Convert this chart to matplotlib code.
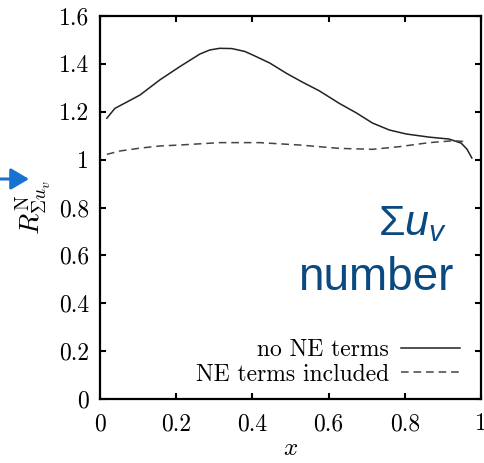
import matplotlib
matplotlib.use("Agg")
import matplotlib.pyplot as plt

# values
x_no_ne = [0.018, 0.039, 0.071, 0.105, 0.157, 0.209, 0.262, 0.288, 0.314, 0.346,
           0.380, 0.401, 0.445, 0.490, 0.531, 0.576, 0.628, 0.673, 0.715, 0.759,
           0.804, 0.864, 0.916, 0.948, 0.963, 0.976]
y_no_ne = [1.173, 1.214, 1.241, 1.270, 1.333, 1.388, 1.441, 1.458, 1.465, 1.464,
           1.452, 1.437, 1.404, 1.360, 1.324, 1.287, 1.235, 1.195, 1.153, 1.124,
           1.107, 1.094, 1.086, 1.069, 1.044, 1.007]

x_ne = [0.018, 0.052, 0.105, 0.157, 0.209, 0.314, 0.419, 0.524, 0.628, 0.715,
        0.785, 0.864, 0.929, 0.953]
y_ne = [1.022, 1.036, 1.048, 1.057, 1.061, 1.071, 1.071, 1.061, 1.047, 1.043,
        1.054, 1.071, 1.079, 1.076]

xticks = [0, 0.2, 0.4, 0.6, 0.8, 1]
xtick_labels = ["0", "0.2", "0.4", "0.6", "0.8", "1"]
yticks = [0, 0.2, 0.4, 0.6, 0.8, 1, 1.2, 1.4, 1.6]
ytick_labels = ["0", "0.2", "0.4", "0.6", "0.8", "1", "1.2", "1.4", "1.6"]

plt.rcParams["font.family"] = "cmr10"
plt.rcParams["mathtext.fontset"] = "cm"
plt.rcParams["mathtext.rm"] = "Liberation Sans"
plt.rcParams["mathtext.it"] = "Liberation Sans:italic"
plt.rcParams["axes.formatter.use_mathtext"] = True

fig = plt.figure(figsize=(4.85, 4.63), dpi=100)
ax = fig.add_axes([100 / 485, 1 - 399 / 463, 381 / 485, 383 / 463])

ax.plot(x_no_ne, y_no_ne, color="#222222", lw=1.1, label="no NE terms")
ax.plot(x_ne, y_ne, color="#444444", lw=1.1, dashes=(5.0, 3.2), label="NE terms included")

ax.set_xlim(0, 1)
ax.set_ylim(0, 1.6)
ax.set_xticks(xticks)
ax.set_xticklabels(xtick_labels)
ax.set_yticks(yticks)
ax.set_yticklabels(ytick_labels)
ax.tick_params(direction="in", length=4, width=1.5, top=True, right=True, labelsize=17)
ax.tick_params(axis="x", pad=10)
ax.tick_params(axis="y", pad=8)
for s in ax.spines.values():
    s.set_linewidth(1.6)

ax.set_xlabel(r"$x$", fontsize=18, labelpad=2)
ax.set_ylabel(r"$R^{\mathrm{N}}_{\Sigma u_v}$", fontsize=20, labelpad=4)

ax.legend(loc="lower right", bbox_to_anchor=(0.945, 0.035), frameon=False,
          markerfirst=False, fontsize=17, handlelength=2.5, handletextpad=0.5,
          borderpad=0, borderaxespad=0, labelspacing=0.1)

# blue annotation text and arrow
blue = "#0b4a80"
fig.text(447 / 485, 1 - 235 / 463, r"$\Sigma u_v$", color=blue, fontsize=31,
         ha="right", va="baseline", math_fontfamily="custom")
fig.text(453 / 485, 1 - 290 / 463, "number", color=blue, fontsize=33,
         family="Liberation Sans", ha="right", va="baseline")
fig.add_artist(matplotlib.patches.FancyArrowPatch(
    (0, 1 - 179 / 463), (29 / 485, 1 - 179 / 463), transform=fig.transFigure,
    arrowstyle="-|>,head_length=11,head_width=6.5", color="#1872d0", lw=2.2,
    shrinkA=0, shrinkB=0))

fig.savefig("out.png", dpi=100)
